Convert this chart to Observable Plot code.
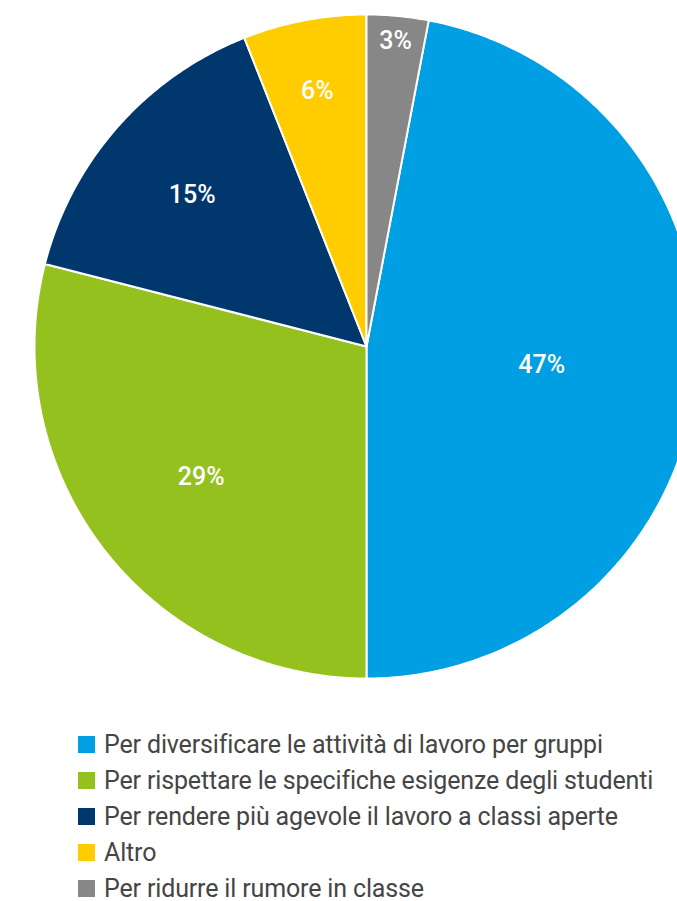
<!DOCTYPE html>
<html>
<head>
<meta charset="utf-8">
<script src="https://cdn.jsdelivr.net/npm/d3@7"></script>
<script src="https://cdn.jsdelivr.net/npm/@observablehq/plot@0.6"></script>
<style>
  html, body { margin: 0; padding: 0; background: #fff; width: 677px; height: 901px; overflow: hidden; }
  #chart { position: absolute; left: 0; top: 0; width: 677px; overflow: hidden; }
  #legend { position: absolute; left: 78px; top: 727px; font-family: Roboto, "Open Sans", sans-serif; font-size: 25px; color: #454545; font-weight: 400; letter-spacing: -0.15px; }
  .item { display: flex; align-items: center; height: 35.8px; white-space: nowrap; }
  .sw { width: 17px; height: 17px; margin-right: 9px; flex: none; }
</style>
</head>
<body>
<div id="chart"></div>
<div id="legend"></div>
<script>
const categories = [
  "Per diversificare le attività di lavoro per gruppi",
  "Per rispettare le specifiche esigenze degli studenti",
  "Per rendere più agevole il lavoro a classi aperte",
  "Altro",
  "Per ridurre il rumore in classe"
];
const values = [47, 29, 15, 6, 3];
const labels = ["47%", "29%", "15%", "6%", "3%"];
const colors = ["#009FE3", "#95C11F", "#00376D", "#FFCC00", "#878787"];

// layout: label distance from centre as a fraction of radius
const labelRadius = [0.53, 0.63, 0.70, 0.79, 0.93];

const total = d3.sum(values);
const startAngle = values[values.length - 1] / total * 360; // first slice begins after the last one wraps from 12 o'clock
const slices = [];
const labelPts = [];
let a0 = startAngle;
values.forEach((v, i) => {
  const a1 = a0 + v / total * 360;
  slices.push({cat: categories[i], x: 0, y: 0});
  const n = Math.max(2, Math.ceil((a1 - a0) / 0.5));
  for (let k = 0; k <= n; k++) {
    const t = (a0 + (a1 - a0) * k / n) * Math.PI / 180;
    slices.push({cat: categories[i], x: Math.sin(t), y: Math.cos(t)});
  }
  slices.push({cat: categories[i], x: 0, y: 0});
  const m = ((a0 + a1) / 2) * Math.PI / 180;
  labelPts.push({label: labels[i], x: labelRadius[i] * Math.sin(m), y: labelRadius[i] * Math.cos(m)});
  a0 = a1;
});

const cx = 366, cy = 346, r = 332;
const plot = Plot.plot({
  width: 677,
  height: 700,
  margin: 0,
  x: {domain: [-1, 1], range: [cx - r, cx + r], axis: null},
  y: {domain: [-1, 1], range: [cy + r, cy - r], axis: null},
  color: {domain: categories, range: colors},
  marks: [
    Plot.line(slices, {x: "x", y: "y", z: "cat", fill: "cat", stroke: "white", strokeWidth: 2, strokeLinejoin: "round", curve: "linear"}),
    Plot.text(labelPts, {x: "x", y: "y", dy: 2, text: "label", fill: "white", fontSize: 25, fontWeight: 500, fontFamily: "Roboto, sans-serif"})
  ]
});
plot.style.overflow = "hidden";
document.getElementById("chart").appendChild(plot);

const legend = document.getElementById("legend");
categories.forEach((c, i) => {
  const row = document.createElement("div");
  row.className = "item";
  const sw = document.createElement("span");
  sw.className = "sw";
  sw.style.background = colors[i];
  const tx = document.createElement("span");
  tx.textContent = c;
  row.appendChild(sw);
  row.appendChild(tx);
  legend.appendChild(row);
});
</script>
</body>
</html>
